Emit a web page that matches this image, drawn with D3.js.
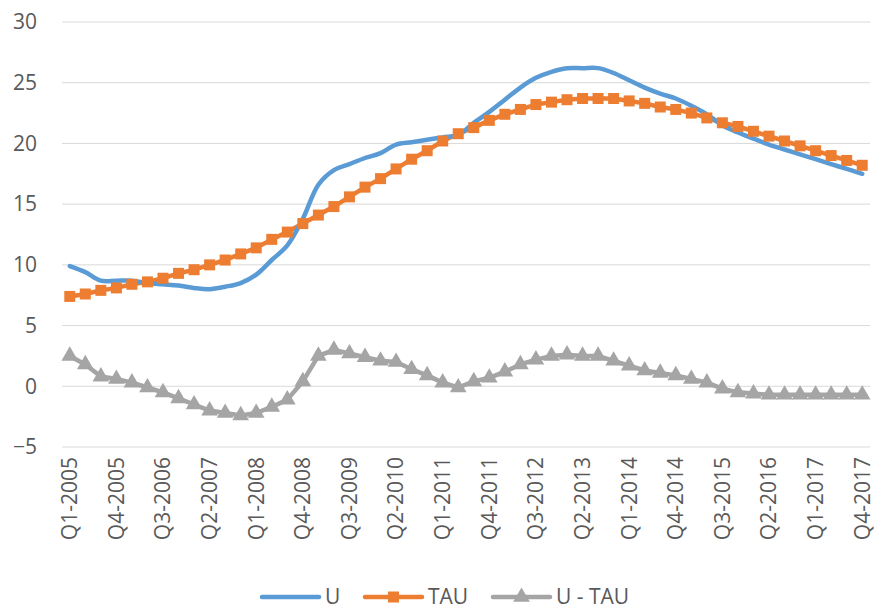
<!DOCTYPE html>
<html>
<head>
<meta charset="utf-8">
<script src="https://cdn.jsdelivr.net/npm/d3@7/dist/d3.min.js"></script>
<style>
  html, body { margin: 0; padding: 0; background: #fff; }
  svg { display: block; }
  text { font-family: "Open Sans", "DejaVu Sans", sans-serif; fill: #595959; }
</style>
</head>
<body>
<svg id="chart" width="876" height="611"></svg>
<script>
// Quarterly categories Q1-2005 .. Q4-2017
const years = d3.range(2005, 2018);
const quarters = years.flatMap(y => [1, 2, 3, 4].map(q => `Q${q}-${y}`));

// Series values (%)
const seriesU = [9.9, 9.4, 8.7, 8.7, 8.7, 8.5, 8.4, 8.3, 8.1, 8.0, 8.2, 8.5, 9.2,
  10.4, 11.6, 13.8, 16.6, 17.8, 18.3, 18.8, 19.2, 19.9, 20.1, 20.3, 20.5, 20.7,
  21.7, 22.6, 23.6, 24.6, 25.4, 25.9, 26.2, 26.2, 26.2, 25.8, 25.2, 24.6, 24.1,
  23.7, 23.1, 22.4, 21.5, 20.9, 20.4, 19.9, 19.5, 19.1, 18.7, 18.3, 17.9, 17.5];

const seriesTAU = [7.4, 7.6, 7.9, 8.1, 8.4, 8.6, 8.9, 9.3, 9.6, 10.0, 10.4, 10.9, 11.4,
  12.1, 12.7, 13.4, 14.1, 14.8, 15.6, 16.4, 17.1, 17.9, 18.7, 19.4, 20.2, 20.8,
  21.3, 21.9, 22.4, 22.8, 23.2, 23.4, 23.6, 23.7, 23.7, 23.7, 23.5, 23.3, 23.0,
  22.8, 22.5, 22.1, 21.7, 21.4, 21.0, 20.6, 20.2, 19.8, 19.4, 19.0, 18.6, 18.2];

const seriesGap = [2.5, 1.8, 0.8, 0.6, 0.3, -0.1, -0.5, -1.0, -1.5, -2.0, -2.2, -2.4, -2.2,
  -1.7, -1.1, 0.4, 2.5, 3.0, 2.7, 2.4, 2.1, 2.0, 1.4, 0.9, 0.3, -0.1,
  0.4, 0.7, 1.2, 1.8, 2.2, 2.5, 2.6, 2.5, 2.5, 2.1, 1.7, 1.3, 1.1,
  0.9, 0.6, 0.3, -0.2, -0.5, -0.6, -0.7, -0.7, -0.7, -0.7, -0.7, -0.7, -0.7];

const yTicks = [-5, 0, 5, 10, 15, 20, 25, 30];
const xTickEvery = 3;

const seriesNames = ["U", "TAU", "U - TAU"];
const colors = ["#5B9BD5", "#ED7D31", "#A5A5A5"];

const fontSize = 21;
const svg = d3.select("#chart");
const plot = { left: 62, right: 870, top: 22, bottom: 447 };

const x = d3.scaleBand().domain(quarters).range([plot.left, plot.right]);
const xc = d => x(d) + x.bandwidth() / 2;
const y = d3.scaleLinear().domain([-5, 30]).range([plot.bottom, plot.top]);

// Horizontal gridlines
svg.append("g")
  .selectAll("line")
  .data(yTicks)
  .join("line")
  .attr("x1", plot.left).attr("x2", plot.right)
  .attr("y1", d => y(d)).attr("y2", d => y(d))
  .attr("stroke", "#D9D9D9").attr("stroke-width", 1);

// Y axis labels
const yAxis = d3.axisLeft(y).tickValues(yTicks).tickSize(0).tickPadding(0);
const gy = svg.append("g").attr("transform", "translate(37,0)").call(yAxis);
gy.select(".domain").remove();
gy.selectAll("text").attr("font-size", fontSize).style("font-family", null).attr("fill", "#595959");

// X axis labels (rotated)
const xAxis = d3.axisBottom(x)
  .tickValues(quarters.filter((d, i) => i % xTickEvery === 0))
  .tickSize(0);
const gx = svg.append("g").attr("transform", `translate(0,${plot.bottom})`).call(xAxis);
gx.select(".domain").remove();
gx.selectAll("text")
  .attr("font-size", fontSize)
  .style("font-family", null)
  .attr("fill", "#595959")
  .attr("transform", "rotate(-90)")
  .attr("text-anchor", "end")
  .attr("x", -10)
  .attr("y", 0)
  .attr("dy", "0.35em");

// Lines
const lineSmooth = d3.line().x((d, i) => xc(quarters[i])).y(d => y(d)).curve(d3.curveCatmullRom.alpha(0.5));
const lineStraight = d3.line().x((d, i) => xc(quarters[i])).y(d => y(d));

svg.append("path").datum(seriesGap)
  .attr("d", lineStraight).attr("fill", "none")
  .attr("stroke", colors[2]).attr("stroke-width", 4.5).attr("stroke-linejoin", "round");

svg.append("path").datum(seriesTAU)
  .attr("d", lineStraight).attr("fill", "none")
  .attr("stroke", colors[1]).attr("stroke-width", 4.5).attr("stroke-linejoin", "round");

svg.append("path").datum(seriesU)
  .attr("d", lineSmooth).attr("fill", "none")
  .attr("stroke", colors[0]).attr("stroke-width", 4.5).attr("stroke-linecap", "round");

// Markers
const sq = d3.symbol().type(d3.symbolSquare).size(121);
const tri = d3.symbol().type(d3.symbolTriangle).size(120);

svg.append("g").selectAll("path")
  .data(seriesTAU)
  .join("path")
  .attr("d", sq)
  .attr("transform", (d, i) => `translate(${xc(quarters[i])},${y(d)})`)
  .attr("fill", colors[1]);

svg.append("g").selectAll("path")
  .data(seriesGap)
  .join("path")
  .attr("d", tri)
  .attr("transform", (d, i) => `translate(${xc(quarters[i])},${y(d)})`)
  .attr("fill", colors[2]);

// Legend
const legendItems = [
  { name: seriesNames[0], color: colors[0], x: 262, marker: null },
  { name: seriesNames[1], color: colors[1], x: 365, marker: sq },
  { name: seriesNames[2], color: colors[2], x: 493, marker: tri }
];
const ly = 597;
const lg = svg.append("g");
legendItems.forEach(it => {
  lg.append("line")
    .attr("x1", it.x).attr("x2", it.x + 57)
    .attr("y1", ly).attr("y2", ly)
    .attr("stroke", it.color).attr("stroke-width", 4.5).attr("stroke-linecap", "round");
  if (it.marker) {
    lg.append("path").attr("d", it.marker)
      .attr("transform", `translate(${it.x + 28.5},${ly})`)
      .attr("fill", it.color);
  }
  lg.append("text")
    .attr("x", it.x + 63).attr("y", ly)
    .attr("dy", "0.35em")
    .attr("font-size", fontSize)
    .text(it.name);
});
</script>
</body>
</html>
